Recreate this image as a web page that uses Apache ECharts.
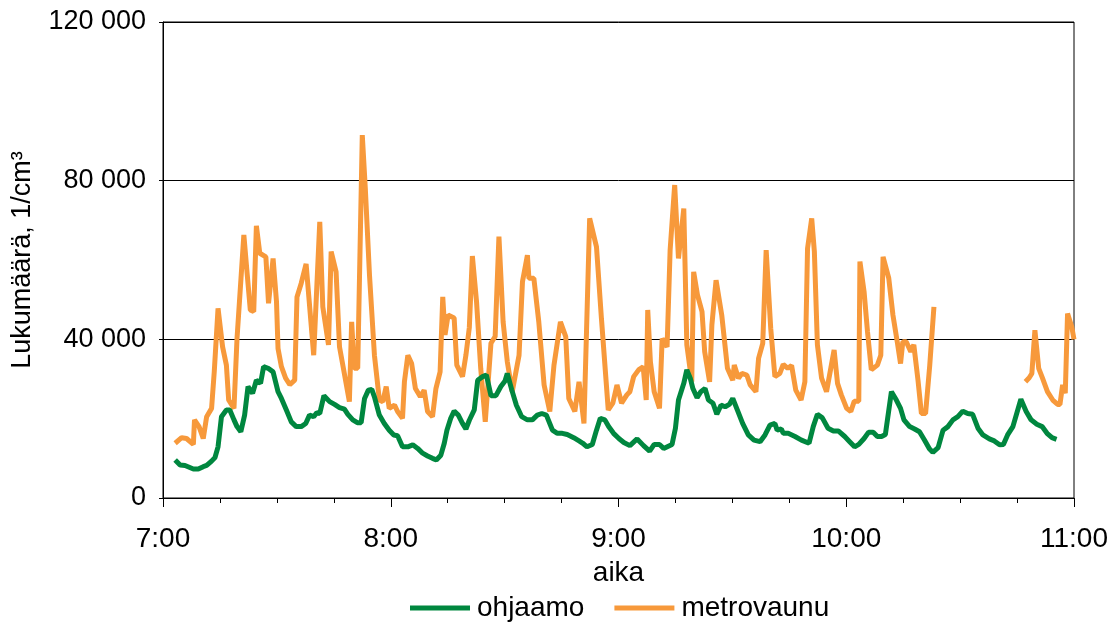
<!DOCTYPE html>
<html>
<head>
<meta charset="utf-8">
<script src="https://cdn.jsdelivr.net/npm/echarts@6/dist/echarts.min.js"></script>
<style>html,body{margin:0;padding:0;background:#fff}#c{width:1111px;height:623px}</style>
</head>
<body>
<div id="c"></div>
<script>
// minutes after 7:00
const ohjaamoTime = [
  3.2,4.5,5.8,8.0,9.3,10.6,11.5,12.8,13.7,14.5,
  15.4,16.7,17.6,18.7,19.5,20.5,21.5,22.4,23.6,24.6,
  25.7,26.5,27.7,29.0,30.3,31.2,32.5,33.8,35.1,36.4,
  37.6,38.6,39.7,40.5,41.3,42.4,43.9,45.2,46.5,47.8,
  48.7,50.0,51.2,52.2,53.1,54.1,55.0,55.7,57.0,58.3,
  59.6,60.8,61.8,63.1,64.5,65.8,67.1,68.4,69.7,71.0,
  72.0,73.2,74.1,74.8,75.8,76.7,77.8,78.9,79.8,80.7,
  82.0,82.9,84.2,85.2,86.4,87.7,89.0,90.1,90.7,91.9,
  93.1,94.5,96.0,97.3,98.6,99.8,101.0,102.6,103.9,105.2,
  106.5,108.2,109.6,110.6,111.7,113.1,114.2,115.2,116.4,117.4,
  118.7,120.1,121.4,123.0,124.9,126.6,128.2,129.4,130.8,131.9,
  134.1,135.0,135.8,137.2,138.0,138.9,139.6,140.7,141.7,142.8,
  143.7,144.9,145.9,147.0,148.1,149.2,150.1,151.3,152.7,154.2,
  155.7,157.3,158.6,159.9,161.2,161.8,162.9,163.4,164.7,166.5,
  168.2,170.2,171.3,172.4,173.7,175.2,176.6,177.9,179.6,180.9,
  182.2,183.3,184.7,185.9,187.1,188.2,189.3,190.3,191.9,193.2,
  194.3,195.2,196.7,198.0,199.3,200.6,201.9,202.8,204.2,205.5,
  206.8,208.1,209.4,210.7,212.0,213.3,214.7,216.0,217.7,219.0,
  220.4,221.4,222.5,223.9,226.0,227.4,228.7,230.2,231.6,232.9,
  234.2,235.4
];
const ohjaamoValue = [
  9600,8300,8200,7300,7300,7900,8200,9300,10200,12900,
  20500,22200,22200,19700,18000,16700,20900,28100,26400,29700,
  28900,33100,32700,31800,26800,25100,22200,19200,18000,18000,
  18800,20900,20500,21500,21300,25800,24300,23600,22800,22400,
  21100,19700,19000,19000,25100,27200,27400,25500,20900,18800,
  17100,15900,15700,12900,12900,13400,12500,11300,10600,10000,
  9600,10800,13800,17100,20100,21900,20900,18800,17400,19600,
  22200,29700,30600,31000,25800,25800,28100,29500,31400,27200,
  23400,20500,19700,19700,20900,21300,20900,17100,16300,16300,
  16000,15200,14400,13800,12900,13500,17100,20100,19700,18000,
  16300,15000,14000,13200,14900,13200,11800,13500,13500,12500,
  13500,17600,24700,28900,32300,30200,27600,25300,26800,27600,
  24700,23900,21100,23400,23000,23600,25100,22200,18800,15900,
  14600,14200,15900,18400,18800,17100,17400,16300,16300,15500,
  14600,13800,18000,21100,20200,17600,16900,16900,15500,14200,
  12900,13500,15000,16600,16600,15500,15500,16000,26800,24700,
  22600,19700,18000,17400,16700,14600,12400,11500,12700,17100,
  18000,19700,20500,21900,21300,21100,17600,15900,14900,14400,
  13400,13500,15900,18000,24900,21800,19700,18600,18000,16300,
  15200,14800
];
const metroTime = [
  3.2,4.9,6.2,8.0,8.3,9.5,10.6,11.5,12.8,13.5,
  14.5,15.7,16.7,17.3,18.7,19.5,21.3,22.2,23.0,23.9,
  24.6,25.5,27.1,27.8,29.0,29.9,30.3,31.2,32.3,33.4,
  34.7,35.3,36.4,37.7,39.7,41.3,42.1,43.6,44.3,45.6,
  46.5,47.6,49.1,49.7,50.4,51.3,52.5,53.3,54.4,55.7,
  57.0,57.9,58.8,59.6,61.0,61.8,63.1,63.6,64.5,65.5,
  66.5,67.8,68.8,69.7,71.0,71.9,73.0,73.7,74.3,75.1,
  76.7,77.4,78.9,79.8,80.7,81.5,82.6,83.7,84.9,86.4,
  87.5,88.5,89.6,90.7,92.0,93.8,94.7,96.0,96.4,97.7,
  99.0,100.4,101.9,103.0,104.7,106.1,106.9,108.5,109.6,110.9,
  112.4,114.2,115.5,117.3,118.5,119.6,120.8,122.2,123.0,124.0,
  125.3,126.5,127.3,127.7,128.4,129.4,130.8,131.5,132.8,133.6,
  134.8,135.8,137.2,138.0,139.3,139.8,140.8,142.0,142.7,144.0,
  144.6,145.7,147.2,148.7,150.1,150.5,151.6,152.5,153.8,154.7,
  156.2,156.9,158.0,158.9,160.1,161.2,162.5,163.4,164.6,165.6,
  166.7,168.1,169.1,169.8,170.9,171.6,172.4,173.5,174.8,176.8,
  177.7,178.7,180.1,181.2,182.1,183.3,183.6,184.7,185.6,186.6,
  188.2,189.1,189.7,191.2,192.3,193.5,194.3,194.9,195.8,197.0,
  197.8,198.9,199.8,200.9,202.0,203.1,215.0,227.2,228.2,228.9,
  229.7,230.7,231.7,233.0,234.4,235.7,236.3,237.0,237.7,238.3,
  239.4,240.0
];
const metroValue = [
  13800,15200,15000,13500,19700,18000,15000,20500,22600,31800,
  47800,38100,33500,24700,22600,40200,66300,56200,47400,47000,
  68600,61700,60800,49100,60400,49500,37700,33100,30200,28600,
  29700,50700,54100,59000,36000,69600,48200,38600,62100,57000,
  38100,32300,24300,44400,32700,32700,91500,78000,56200,36000,
  24700,24300,28100,22600,23400,21800,20100,29300,36000,33900,
  27600,25500,27200,21800,20500,27600,31800,50700,41100,46100,
  45400,33500,30600,36000,43000,61000,49500,32700,19200,39000,
  40700,65900,44400,34400,26800,36000,54500,61200,55400,55400,
  44400,28500,21800,33500,44400,40700,25100,21800,29300,18800,
  70500,63300,45300,22200,23900,28500,23900,26000,26800,30600,
  32300,33100,24700,47400,34400,26800,22600,40200,38100,62500,
  78900,60400,73000,38600,29300,57000,51200,47000,36900,29300,
  43600,54900,46100,32700,29700,33500,30200,31400,31000,28500,
  26800,35200,39000,62500,42800,30600,31400,33700,32700,33400,
  27200,24700,29300,62900,70500,62100,38600,30200,26800,37300,
  28900,26000,22600,21800,24400,24400,59600,52000,41900,32300,
  33500,36000,60800,55400,46100,39000,33900,39400,39400,36900,
  38600,29700,21300,21300,33500,48200,null,29300,30300,31400,
  42300,32700,30200,26800,24700,23600,23600,28500,26400,46500,
  43200,40000
];
const seriesNames = ['ohjaamo', 'metrovaunu'];
const yTicks = [0, 40000, 80000, 120000];
const xTickLabels = ['7:00', '8:00', '9:00', '10:00', '11:00'];

const GREEN = '#00873F';
const ORANGE = '#F7993B';
const FONT = '"Liberation Sans", Arial, sans-serif';

const chart = echarts.init(document.getElementById('c'), null, {renderer: 'canvas'});
chart.setOption({
  animation: false,
  backgroundColor: '#ffffff',
  grid: {left: 163, right: 35, top: 22, bottom: 125, show: true, borderColor: '#000', borderWidth: 1, backgroundColor: 'transparent'},
  legend: {
    data: seriesNames,
    bottom: 1,
    left: 410,
    padding: 0,
    icon: 'rect',
    itemWidth: 60,
    itemHeight: 5,
    itemGap: 30,
    textStyle: {fontFamily: FONT, fontSize: 28, color: '#000', padding: [0, 0, 0, 2]}
  },
  xAxis: {
    type: 'value',
    min: 0, max: 240, interval: 60,
    name: 'aika',
    nameLocation: 'middle',
    nameGap: 61,
    nameTextStyle: {fontFamily: FONT, fontSize: 28, color: '#000'},
    axisLine: {show: true, lineStyle: {color: '#000', width: 1}},
    axisTick: {show: true, length: 9, lineStyle: {color: '#000'}},
    minorTick: {show: true, splitNumber: 4, length: 5, lineStyle: {color: '#000'}},
    splitLine: {show: false},
    axisLabel: {
      margin: 27,
      fontFamily: FONT, fontSize: 28, color: '#000',
      formatter: v => xTickLabels[Math.round(v / 60)]
    }
  },
  yAxis: {
    type: 'value',
    min: 0, max: 120000, interval: 40000,
    name: 'Lukumäärä, 1/cm³',
    nameLocation: 'middle',
    nameRotate: 90,
    nameGap: 127,
    nameTextStyle: {fontFamily: FONT, fontSize: 27, color: '#000'},
    axisLine: {show: true, lineStyle: {color: '#000', width: 1}},
    axisTick: {show: true, length: 4, lineStyle: {color: '#000'}},
    splitLine: {show: true, lineStyle: {color: '#000', width: 1}},
    axisLabel: {
      margin: 17,
      fontFamily: FONT, fontSize: 27, color: '#000',
      formatter: v => yTicks.includes(v) ? String(v).replace(/\B(?=(\d{3})+(?!\d))/g, ' ') : ''
    }
  },
  series: [
    {
      name: seriesNames[0], type: 'line', showSymbol: false, symbol: 'none',
      color: GREEN,
      lineStyle: {color: GREEN, width: 5},
      data: ohjaamoTime.map((t, i) => [t, ohjaamoValue[i]]),
      z: 3
    },
    {
      name: seriesNames[1], type: 'line', showSymbol: false, symbol: 'none',
      color: ORANGE, connectNulls: false,
      lineStyle: {color: ORANGE, width: 5},
      data: metroTime.map((t, i) => [t, metroValue[i]]),
      z: 2
    }
  ]
});
</script>
</body>
</html>
